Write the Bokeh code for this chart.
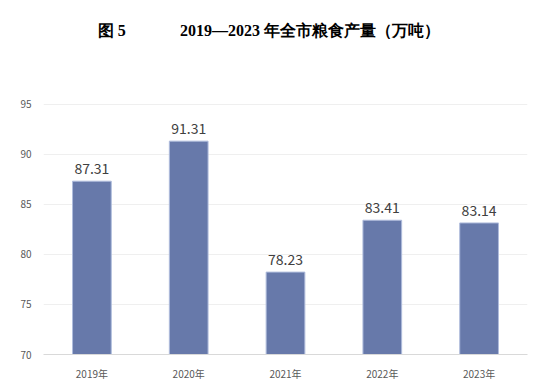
from bokeh.plotting import figure
from bokeh.models import ColumnDataSource, Label, FixedTicker
from bokeh.embed import file_html
from bokeh.resources import INLINE
from bokeh.core.properties import value

years = ["2019年", "2020年", "2021年", "2022年", "2023年"]
output = [87.31, 91.31, 78.23, 83.41, 83.14]
labels = ["87.31", "91.31", "78.23", "83.41", "83.14"]
y_ticks = [70, 75, 80, 85, 90, 95]

src = ColumnDataSource(dict(x=years, top=output, lab=labels))

# frame extends up to hold the title; only ticks 70..95 get grid lines
p = figure(x_range=years, y_range=(70, 104.36), width=556, height=383,
           output_backend="svg", toolbar_location=None,
           min_border_left=43, min_border_right=29, min_border_top=10, min_border_bottom=28)
p.outline_line_color = None
p.background_fill_color = "white"

p.vbar(x="x", top="top", bottom=70, width=0.4, source=src,
       fill_color="#6779AA", line_color="#AFBCDC", line_width=1)
p.text(x="x", y="top", text="lab", source=src, text_align="center", text_baseline="bottom",
       y_offset=-7, text_font=value("Noto Sans CJK SC"), text_font_size="14px", text_color="#404040")

p.yaxis.ticker = FixedTicker(ticks=y_ticks)
p.yaxis.axis_line_color = None
p.yaxis.major_tick_line_color = None
p.yaxis.minor_tick_line_color = None
p.yaxis.major_label_text_font = "Noto Sans CJK SC"
p.yaxis.major_label_text_font_size = "10px"
p.yaxis.major_label_text_color = "#595959"
p.yaxis.major_label_standoff = 6

p.xaxis.axis_line_color = "#D9D9D9"
p.xaxis.major_tick_line_color = None
p.xaxis.minor_tick_line_color = None
p.xaxis.major_label_text_font = "Noto Sans CJK SC"
p.xaxis.major_label_text_font_size = "10px"
p.xaxis.major_label_text_color = "#595959"
p.xaxis.major_label_standoff = 5

p.xgrid.grid_line_color = None
p.ygrid.grid_line_color = "#EFEFEF"
p.ygrid.grid_line_width = 1

title_font = "Liberation Serif"
p.add_layout(Label(x=0.56, y=102.37, text="图 5",
                   text_font=title_font, text_font_style="bold", text_font_size="16px",
                   text_color="#000000", text_baseline="middle"))
p.add_layout(Label(x=1.41, y=102.37,
                   text="2019—2023 年全市粮食产量（万吨）",
                   text_font=title_font, text_font_style="bold", text_font_size="16px",
                   text_color="#000000", text_baseline="middle"))

open("out.html", "w").write(file_html(p, INLINE))
